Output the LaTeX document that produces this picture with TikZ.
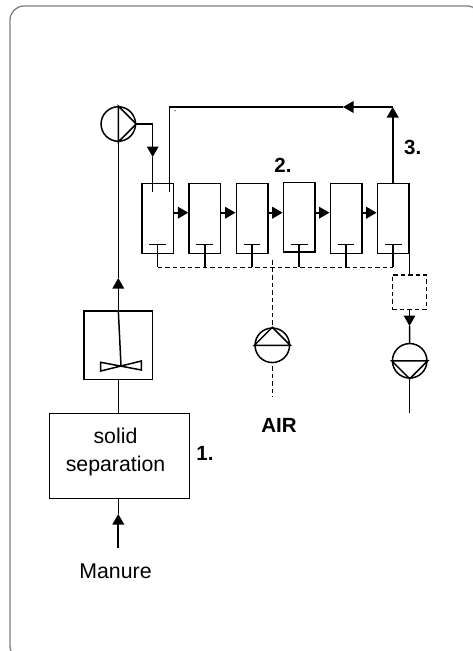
\documentclass[tikz,border=0pt]{standalone}
\usepackage{fontspec}
\setmainfont{Liberation Sans}
\usetikzlibrary{arrows.meta,positioning}
\tikzset{
  tank/.style={draw,line width=1.5pt,minimum width=31.5pt,minimum height=69.6pt,inner sep=0pt},
  pump/.style={draw,circle,line width=1.5pt,minimum size=34.5pt,inner sep=0pt},
  pipe/.style={line width=1.5pt},
  thickpipe/.style={line width=2.1pt},
  air/.style={line width=1.5pt,dash pattern=on 4.5pt off 3pt},
  tip/.style={-{Triangle[length=10.5pt,width=11.5pt]}},
  lbl/.style={font=\fontsize{21.3pt}{24pt}\selectfont,align=center,inner sep=0pt},
  num/.style={font=\fontsize{20.5pt}{24pt}\selectfont\bfseries,inner sep=0pt}
}
\begin{document}
\begin{tikzpicture}[x=1pt,y=-1pt,node distance=47.15pt,on grid]
        \clip (0,0) rectangle (473,651);
        \draw[gray,line width=1.3pt,rounded corners=14pt] (10,6) rectangle (481,660);
        % tanks
        \node[tank] (tank1) at (157.7,218.5) {};
        \node[tank] (tank2) [right=of tank1] {};
        \node[tank] (tank3) [right=of tank2] {};
        \node[tank,yshift=1.4pt] (tank4) [right=of tank3] {};
        \node[tank] (tank5) at (346,218.5) {};
        \node[tank] (tank6) [right=of tank5] {};
        % pumps
        \node[pump] (pumpa) at (118.3,124) {};
        \node[pump] (pumpb) at (272.3,345.3) {};
        \node[pump] (pumpc) at (409.7,360.8) {};
        \draw[pipe] (pumpa.north) -- (pumpa.east) -- (pumpa.south) -- cycle;
        \draw[pipe] (pumpb.west) -- (pumpb.north) -- (pumpb.east) -- cycle;
        \draw[pipe] (pumpc.west) -- (pumpc.south) -- (pumpc.east) -- cycle;
        % boxes
        \node[draw,line width=1.5pt,minimum width=68.6pt,minimum height=68.3pt] (stir) at (118.3,345.2) {};
        \node[draw,line width=1.5pt,minimum width=140pt,minimum height=85pt] (sep) at (119.3,455.8) {};
        \node[draw,air,minimum width=34.4pt,minimum height=34.3pt] (drain) at (409.5,292.2) {};
        % labels
        \node[lbl] (septext) at (115.5,452) {solid\\[3.5pt]separation};
        \node[lbl] (manure) at (115.5,571.5) {Manure};
        \node[num] (n1) at (205,453) {1.};
        \node[num] (n2) at (283,165) {2.};
        \node[num] (n3) at (412.7,147.3) {3.};
        \node[num] (airtext) at (279,425) {AIR};
        % stirrer
        \coordinate (imp) at (121,366);
        \draw[pipe] (stir.north) -- (imp);
        \draw[pipe] (100.7,362.3) -- (141.3,370) -- (141.3,361) -- (100.7,371) -- cycle;
        % main line
        \coordinate (riser) at (118.3,278);
        \coordinate (feed) at (118.3,548.3);
        \coordinate (feedtip) at (118.3,514);
        \draw[thickpipe,tip] (feed) -- (feedtip);
        \draw[pipe] (feedtip) -- (feedtip |- sep.south);
        \draw[pipe] (stir.south |- sep.north) -- (stir.south);
        \draw[pipe,tip] (stir.north) -- (riser);
        \draw[pipe] (riser) -- (pumpa.south);
        % inlet and return
        \coordinate (inlettip) at (152.7,157);
        \coordinate (inletend) at (152.7,191.7);
        \coordinate (retstart) at (169.3,191.7);
        \coordinate (retcorner) at (169.3,107);
        \coordinate (rettip) at (343,107);
        \coordinate (retend) at (392.7,107);
        \draw[pipe,tip] (pumpa.east) -| (inlettip);
        \draw[pipe] (inlettip) -- (inletend);
        \draw[pipe] (retstart) -- (retcorner) -- (rettip);
        \draw[pipe,tip] (retend) -- (rettip);
        \draw[thickpipe,tip] (retend |- tank6.north) -- (retend);
        \fill (175,110.7) circle (0.6pt);
        % tank to tank
        \foreach \a/\b in {1/2,2/3,3/4,4/5,5/6}
          \draw[thickpipe,tip] (tank\a.east |- 0,212.7) -- (tank\b.west |- 0,212.7);
        % aeration
        \foreach \n in {1,...,6}{
          \coordinate (aer\n) at (tank\n.south |- 0,244.3);
          \coordinate (dash\n) at (tank\n.south |- 0,267.3);
          \draw[pipe] ([xshift=-8.4pt]aer\n) -- ([xshift=8.4pt]aer\n);
          \draw[pipe] (aer\n) -- (dash\n);
        }
        \draw[air] (dash1) -- (dash6);
        \coordinate (airtop) at (272.3,260);
        \coordinate (airend) at (272.3,396.7);
        \draw[air] (airtop) -- (pumpb.north);
        \draw[air] ([yshift=-3pt]pumpb.south) -- (airend);
        % drain
        \coordinate (draintop) at (409.5,243.3);
        \coordinate (draintip) at (409.5,326);
        \coordinate (drainend) at (409.7,413.3);
        \draw[pipe] (draintop) -- (drain.north);
        \draw[pipe,tip] (drain.south) -- (draintip);
        \draw[pipe] (draintip) -- (pumpc.north);
        \draw[pipe] (pumpc.south) -- (drainend);
      \end{tikzpicture}
\end{document}
